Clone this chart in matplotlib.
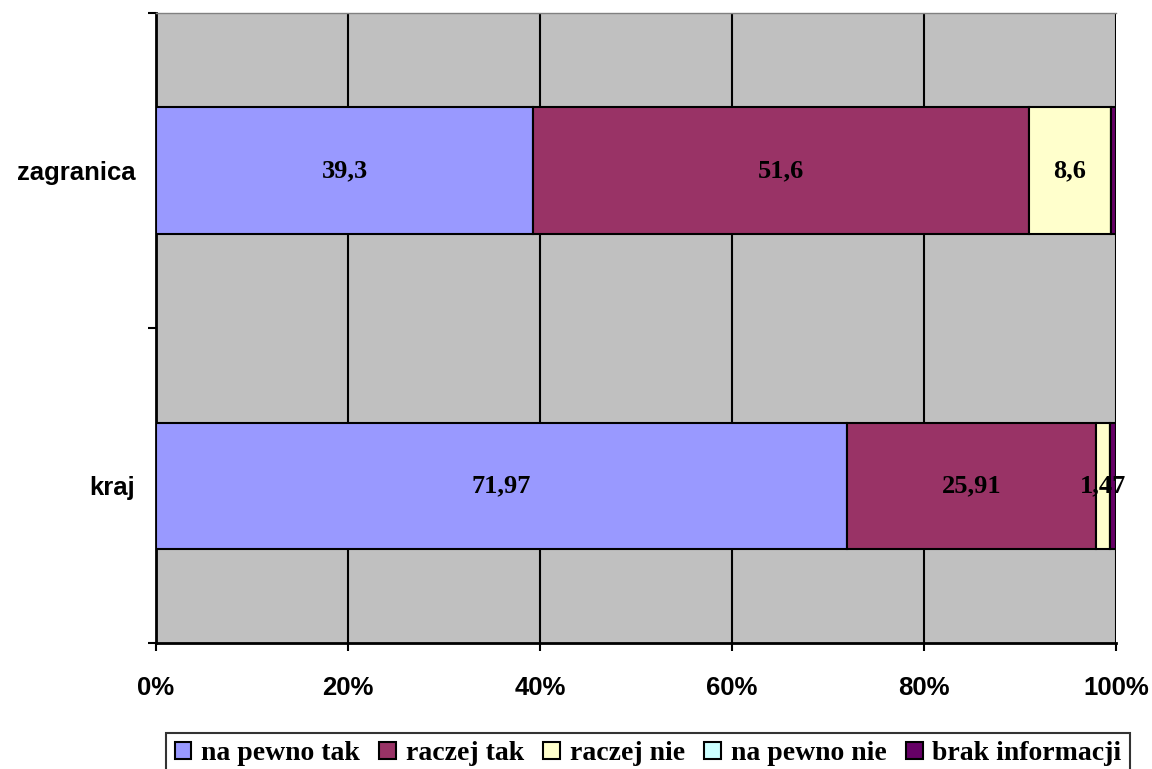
import matplotlib.pyplot as plt
from matplotlib.patches import Patch

categories = ["kraj", "zagranica"]
series_names = ["na pewno tak", "raczej tak", "raczej nie", "na pewno nie", "brak informacji"]
values = {
    "na pewno tak": [71.97, 39.3],
    "raczej tak": [25.91, 51.6],
    "raczej nie": [1.47, 8.6],
    "na pewno nie": [0.0, 0.0],
    "brak informacji": [0.65, 0.5],
}
labels = {
    "na pewno tak": ["71,97", "39,3"],
    "raczej tak": ["25,91", "51,6"],
    "raczej nie": ["1,47", "8,6"],
}
colors = ["#9999FF", "#993366", "#FFFFCC", "#CCFFFF", "#660066"]

fig = plt.figure(figsize=(11.52, 7.69), dpi=100)
ax = fig.add_axes([156 / 1152, 1 - 643 / 769, 960 / 1152, 630 / 769])
ax.set_facecolor("#C0C0C0")

y = [0, 1]
left = [0.0, 0.0]
for name, col in zip(series_names, colors):
    vals = values[name]
    ax.barh(y, vals, left=left, height=0.4, color=col, edgecolor="black", linewidth=1.5, zorder=3)
    if name in labels:
        for i, v in enumerate(vals):
            ax.text(left[i] + v / 2, y[i], labels[name][i], ha="center", va="center",
                    fontsize=19, fontweight="bold", family="Liberation Serif", zorder=4)
    left = [l + v for l, v in zip(left, vals)]

ax.set_xlim(0, 100)
ax.set_ylim(-0.5, 1.5)
ax.set_xticks([0, 20, 40, 60, 80, 100])
ax.set_xticklabels(["0%", "20%", "40%", "60%", "80%", "100%"])
ax.grid(axis="x", color="black", linewidth=1.5, zorder=1)

ax.set_yticks([-0.5, 0.5, 1.5])
ax.set_yticklabels([])
ax.set_yticks([0, 1], minor=True)
ax.set_yticklabels(categories, minor=True)
ax.tick_params(axis="y", which="minor", length=0, pad=15)
ax.tick_params(axis="y", which="major", length=6, width=1.5, direction="out")
ax.tick_params(axis="x", length=6, width=1.5, direction="out", pad=18)

for lab in ax.get_xticklabels() + ax.get_yticklabels(minor=True):
    lab.set_fontsize(18.5)
    lab.set_fontweight("bold")
    lab.set_family("Liberation Sans")

ax.spines["top"].set_color("#808080")
ax.spines["top"].set_linewidth(1)
ax.spines["right"].set_visible(False)
for s in ["left", "bottom"]:
    ax.spines[s].set_linewidth(2)

handles = [Patch(facecolor=c, edgecolor="black", linewidth=1.5) for c in colors]
leg = fig.legend(handles, series_names, loc="upper center", bbox_to_anchor=(648 / 1152, 1 - 733 / 769),
                 ncol=5, frameon=True, fancybox=False, edgecolor="black",
                 prop={"family": "Liberation Serif", "weight": "bold", "size": 20},
                 handlelength=0.6, handleheight=0.6, handletextpad=0.35, columnspacing=0.7,
                 borderpad=0.3, borderaxespad=0)
leg.get_frame().set_linewidth(1.5)

plt.savefig("out.png", dpi=100)
